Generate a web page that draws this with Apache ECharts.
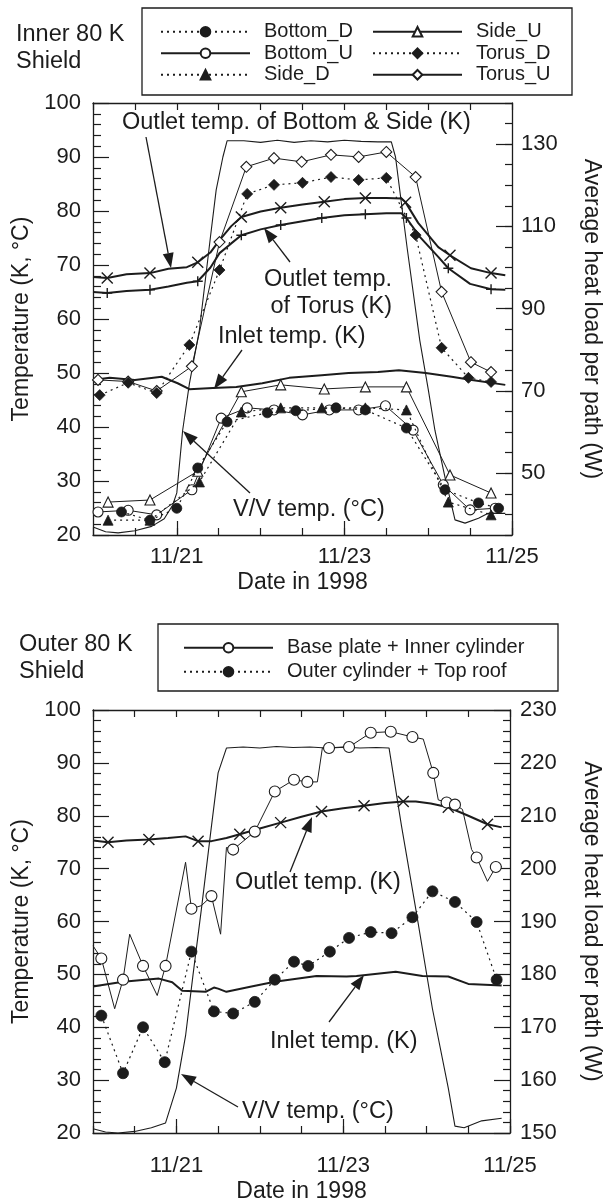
<!DOCTYPE html>
<html><head><meta charset="utf-8">
<script src="https://cdn.jsdelivr.net/npm/echarts@6/dist/echarts.min.js"></script>
<style>html,body{margin:0;padding:0;background:#fff}#c{width:611px;height:1204px}</style>
</head><body><div id="c"></div>
<script>
// ---------- DATA (x = day of November 1998) ----------
const xLabelDays = [21, 23, 25];
const rightTopLabels = [50, 70, 90, 110, 130];

// Inner 80 K shield - temperatures (left axis, K / °C)
const vvTop = [[20.0,21.5],[20.15,20.6],[20.3,20.4],[20.5,20.8],[20.7,21.6],[20.85,23.0],[20.95,25.5],[21.0,27.8],[21.07,39.4],[21.15,48],[21.27,58],[21.4,75],[21.47,83.9],[21.55,90],[21.6,93.0],[21.8,93.0],[22.0,92.7],[22.2,93.1],[22.4,92.7],[22.6,93.0],[22.8,92.8],[23.0,93.1],[23.2,92.9],[23.4,92.8],[23.56,92.8],[23.61,90],[23.75,73],[23.9,56],[24.0,47],[24.08,39.4],[24.2,30.7],[24.32,22.8],[24.44,22.2],[24.6,23.1],[24.71,24],[24.92,24]];
const outletBSLine = [[20.0,67.8],[20.4,68.3],[20.9,69.3],[21.12,69.6],[21.4,72.3],[21.51,74.6],[21.65,77.2],[22.0,79.9],[22.5,81.2],[23.0,82.2],[23.5,82.4],[23.68,82.3],[23.88,77.8],[24.12,73.3],[24.51,69.4],[24.92,68.1]];
const outletBSMarks = [[20.17,67.6],[20.68,68.5],[21.25,70.5],[21.77,78.9],[22.24,80.6],[22.76,81.7],[23.25,82.4],[23.73,81.6],[24.26,71.8],[24.75,68.5]];
const outletTorusLine = [[20.0,65.0],[20.4,65.2],[20.9,66.0],[21.12,66.7],[21.4,69.5],[21.51,72.2],[21.65,74.0],[22.0,76.6],[22.5,78.1],[23.0,79.2],[23.5,79.6],[23.68,79.6],[23.9,75.2],[24.12,71.5],[24.5,66.5],[24.92,65.4]];
const outletTorusMarks = [[20.17,64.8],[20.68,65.4],[21.25,67.0],[21.77,75.5],[22.24,77.4],[22.73,78.7],[23.25,79.4],[23.74,78.7],[24.24,69.4],[24.75,65.5]];
const inletTop = [[20.0,48.7],[20.2,49.1],[20.5,48.7],[20.82,49.3],[21.01,48.1],[21.15,47.0],[21.43,47.2],[21.71,47.4],[22.02,48.1],[22.34,49.1],[22.73,49.6],[23.05,50.0],[23.4,50.2],[23.65,50.5],[23.97,50.0],[24.28,49.3],[24.52,48.7],[24.92,47.8]];

// Inner 80 K shield - heat load per path (right axis, W)
const bottomD = [[20.34,40.6],[20.68,38.6],[21.0,41.5],[21.25,51.3],[21.6,62.5],[22.08,64.7],[22.42,65.2],[22.9,65.9],[23.25,65.4],[23.74,61.0],[24.2,46.0],[24.6,42.8],[24.84,41.5]];
const bottomU = [[20.06,40.6],[20.42,41.0],[20.76,39.9],[21.18,46.0],[21.53,63.4],[21.84,65.9],[22.16,65.4],[22.5,64.2],[22.82,65.4],[23.17,65.4],[23.49,66.4],[23.82,60.5],[24.18,47.2],[24.5,41.1],[24.8,41.5]];
const sideD = [[20.18,38.6],[20.68,38.6],[21.27,47.9],[21.77,64.9],[22.24,65.9],[22.73,65.9],[23.25,65.9],[23.74,65.4],[24.24,43.0],[24.75,39.9]];
const sideU = [[20.18,43.0],[20.68,43.5],[21.25,50.5],[21.77,69.8],[22.24,71.5],[22.76,70.5],[23.25,71.0],[23.74,71.0],[24.26,49.6],[24.75,45.2]];
const torusD = [[20.08,69.0],[20.42,72.0],[20.76,69.5],[21.15,81.2],[21.51,99.4],[21.84,117.9],[22.16,120.1],[22.5,120.6],[22.84,122.0],[23.17,121.3],[23.5,121.8],[23.85,107.9],[24.16,80.5],[24.48,73.2],[24.75,72.2]];
const torusU = [[20.06,72.7],[20.42,72.3],[20.76,70.0],[21.18,76.0],[21.51,106.2],[21.83,124.5],[22.16,126.6],[22.49,125.7],[22.84,127.4],[23.17,126.9],[23.5,128.1],[23.85,122.0],[24.16,94.1],[24.51,77.0],[24.75,74.6]];

// Outer 80 K shield - temperatures (left axis)
const vvBot = [[20.0,20.8],[20.15,20.2],[20.3,20.0],[20.5,20.3],[20.7,21.0],[20.87,21.9],[21.0,28.5],[21.11,38.4],[21.2,50],[21.3,62.4],[21.42,78],[21.5,88.1],[21.6,92.8],[21.8,93.0],[22.0,92.8],[22.2,93.1],[22.4,92.9],[22.6,93.0],[22.8,92.8],[23.0,93.0],[23.2,92.8],[23.4,92.9],[23.55,92.8],[23.7,78],[23.87,62.4],[24.07,43.5],[24.26,28.5],[24.34,21.3],[24.45,21.0],[24.66,22.3],[24.9,22.8]];
const outletBotLine = [[20.0,75.3],[20.4,75.3],[20.9,75.8],[21.11,76.1],[21.42,75.2],[21.6,75.8],[22.0,77.6],[22.5,79.8],[23.0,81.4],[23.5,82.4],[23.87,82.7],[24.05,82.3],[24.5,80.0],[24.9,77.8]];
const outletBotMarks = [[20.18,75.0],[20.67,75.5],[21.26,75.2],[21.76,76.5],[22.25,78.7],[22.74,80.8],[23.25,81.9],[23.72,82.7],[24.26,81.6],[24.73,78.4]];
const inletBot = [[20.0,47.7],[20.36,48.6],[20.79,49.2],[20.95,48.5],[21.07,46.9],[21.35,46.7],[21.45,47.5],[21.5,47.3],[21.6,46.7],[21.9,47.7],[22.18,48.6],[22.68,49.7],[23.04,49.6],[23.16,49.7],[23.63,50.5],[23.95,49.7],[24.26,49.6],[24.5,48.2],[24.9,47.9]];

// Outer 80 K shield - heat load per path (right axis, W)
const baseLine = [[20.0,185.4],[20.26,173.5],[20.44,187.6],[20.77,176.0],[21.11,201.2],[21.3,193.0],[21.53,187.6],[21.6,204.0],[22.69,216.4],[22.75,222.8],[23.96,224.5],[24.14,213.0],[24.43,211.2],[24.54,203.6],[24.73,197.6],[24.9,200.4]];
const baseMarks = [[20.1,183.0],[20.36,179.0],[20.6,181.6],[20.87,181.6],[21.18,192.4],[21.42,194.8],[21.68,203.6],[21.94,207.0],[22.18,214.6],[22.41,216.8],[22.57,216.4],[22.83,222.8],[23.07,223.0],[23.33,225.7],[23.57,225.9],[23.83,224.9],[24.08,218.1],[24.24,212.5],[24.34,212.1],[24.6,202.1],[24.83,200.3]];
const outerCyl = [[20.1,172.2],[20.36,161.3],[20.6,170.0],[20.86,163.4],[21.18,184.3],[21.45,173.0],[21.68,172.6],[21.94,174.8],[22.18,179.0],[22.41,182.4],[22.58,181.6],[22.84,184.3],[23.07,186.9],[23.33,188.0],[23.58,187.8],[23.83,190.8],[24.07,195.7],[24.34,193.7],[24.6,189.9],[24.84,179.0]];

// ---------- STYLE ----------
const FONT = "'Liberation Sans', Arial, Helvetica, sans-serif";
const INK = '#1c1c1c';
const SYM_X = 'path://M0,0L10,10M10,0L0,10';
const SYM_PLUS = 'path://M5,0L5,10M0,5L10,5';
const DOT = [2, 4];

function merged(line, marks) {
  const pts = line.map(p => ({ value: p, symbol: 'none' })).concat(marks.map(p => ({ value: p })));
  pts.sort((a, b) => a.value[0] - b.value[0]);
  return pts;
}

const chart = echarts.init(document.getElementById('c'), null, { renderer: 'canvas' });

const axisLineS = { show: true, lineStyle: { color: INK, width: 1.3 } };
const tickStyle = { color: INK, width: 1.2 };
const lab = { fontFamily: FONT, fontSize: 22, color: INK };
const nameStyle = { fontFamily: FONT, fontSize: 23, color: INK };

function xAxes(gi, labelMargin, nameGap) {
  return [
    { gridIndex: gi, type: 'value', min: 20, max: 25, interval: 0.5, position: 'bottom',
      axisLine: axisLineS, axisTick: { inside: true, length: 7, lineStyle: tickStyle },
      axisLabel: { show: false }, splitLine: { show: false } },
    { gridIndex: gi, type: 'value', min: 20, max: 25, position: 'bottom',
      axisLine: { show: false },
      axisTick: { inside: true, length: 14, customValues: xLabelDays, lineStyle: tickStyle },
      axisLabel: Object.assign({}, lab, { margin: labelMargin, customValues: xLabelDays, formatter: v => '11/' + v }),
      splitLine: { show: false },
      name: 'Date in 1998', nameLocation: 'middle', nameGap: nameGap, nameTextStyle: nameStyle },
    { gridIndex: gi, type: 'value', min: 20, max: 25, interval: 0.5, position: 'top',
      axisLine: axisLineS, axisTick: { inside: true, length: 7, lineStyle: tickStyle },
      axisLabel: { show: false }, splitLine: { show: false } }
  ];
}
function leftAxis(gi) {
  return { gridIndex: gi, type: 'value', min: 20, max: 100, interval: 10, position: 'left',
    axisLine: axisLineS, axisTick: { inside: true, length: 16, lineStyle: tickStyle },
    minorTick: { show: true, splitNumber: 5, length: 8, lineStyle: tickStyle },
    axisLabel: Object.assign({}, lab, { margin: 12 }), splitLine: { show: false },
    name: 'Temperature (K, °C)', nameLocation: 'middle', nameRotate: 90, nameGap: 55, nameTextStyle: nameStyle };
}

const yAxis = [
  leftAxis(0),
  { gridIndex: 0, type: 'value', min: 35, max: 140, interval: 5, position: 'right',
    axisLine: axisLineS, axisTick: { inside: true, length: 7, lineStyle: tickStyle },
    axisLabel: { show: false }, splitLine: { show: false } },
  { gridIndex: 0, type: 'value', min: 35, max: 140, position: 'right',
    axisLine: { show: false },
    axisTick: { inside: true, length: 16, customValues: rightTopLabels, lineStyle: tickStyle },
    axisLabel: Object.assign({}, lab, { margin: 9, customValues: rightTopLabels }),
    splitLine: { show: false },
    name: 'Average heat load per path (W)', nameLocation: 'middle', nameRotate: -90, nameGap: 68, nameTextStyle: nameStyle },
  leftAxis(1),
  { gridIndex: 1, type: 'value', min: 150, max: 230, interval: 10, position: 'right',
    axisLine: axisLineS, axisTick: { inside: true, length: 16, lineStyle: tickStyle },
    minorTick: { show: true, splitNumber: 5, length: 7, lineStyle: tickStyle },
    axisLabel: Object.assign({}, lab, { margin: 10 }), splitLine: { show: false },
    name: 'Average heat load per path (W)', nameLocation: 'middle', nameRotate: -90, nameGap: 70, nameTextStyle: nameStyle }
];
const xAxis = xAxes(0, 11, 36).concat(xAxes(1, 22, 47));

function plain(data, xi, yi, width, z) {
  return { type: 'line', xAxisIndex: xi, yAxisIndex: yi, data: data, symbol: 'none', silent: true,
    lineStyle: { color: INK, width: width }, z: z || 2, animation: false };
}
function crossLine(line, marks, sym, size, xi, yi) {
  return { type: 'line', xAxisIndex: xi, yAxisIndex: yi, data: merged(line, marks), symbol: sym, symbolSize: size,
    showSymbol: true, showAllSymbol: true, silent: true,
    itemStyle: { color: 'rgba(0,0,0,0)', borderColor: INK, borderWidth: 1.4 },
    lineStyle: { color: INK, width: 2 }, z: 3, animation: false };
}
function loadSeries(name, data, sym, filled, dotted, xi, yi, size) {
  return { name: name, type: 'line', xAxisIndex: xi, yAxisIndex: yi, data: data, symbol: sym, symbolSize: size,
    showSymbol: true, showAllSymbol: true, silent: true,
    itemStyle: filled ? { color: INK, borderColor: INK, borderWidth: 0.8 } : { color: '#fff', borderColor: INK, borderWidth: 1.1 },
    lineStyle: { color: INK, width: dotted ? 1.2 : 1, type: dotted ? DOT : 'solid' },
    z: filled ? 5 : 4, animation: false };
}

const series = [
  plain(vvTop, 0, 0, 1.1),
  crossLine(outletBSLine, outletBSMarks, SYM_X, 11, 0, 0),
  crossLine(outletTorusLine, outletTorusMarks, SYM_PLUS, 10, 0, 0),
  plain(inletTop, 0, 0, 2),
  loadSeries('Bottom_D', bottomD, 'circle', true, true, 0, 1, 10),
  loadSeries('Bottom_U', bottomU, 'circle', false, false, 0, 1, 10),
  loadSeries('Side_D', sideD, 'triangle', true, true, 0, 1, 10),
  loadSeries('Side_U', sideU, 'triangle', false, false, 0, 1, 10),
  loadSeries('Torus_D', torusD, 'diamond', true, true, 0, 1, 11),
  loadSeries('Torus_U', torusU, 'diamond', false, false, 0, 1, 11),

  plain(vvBot, 3, 3, 1.1),
  crossLine(outletBotLine, outletBotMarks, SYM_X, 11, 3, 3),
  plain(inletBot, 3, 3, 2),
  loadSeries('Base plate + Inner cylinder', merged(baseLine, baseMarks), 'circle', false, false, 3, 4, 11),
  loadSeries('Outer cylinder + Top roof', outerCyl, 'circle', true, true, 3, 4, 11)
];

// ---------- annotation layout (pixels) ----------
function arrow(x1, y1, x2, y2) {
  const L = 15, W = 5.5;
  const dx = x2 - x1, dy = y2 - y1, d = Math.sqrt(dx * dx + dy * dy);
  const ux = dx / d, uy = dy / d;
  const bx = x2 - ux * L, by = y2 - uy * L;
  return [
    { type: 'line', shape: { x1: x1, y1: y1, x2: bx, y2: by }, style: { stroke: INK, lineWidth: 1.3 }, z: 10 },
    { type: 'polygon', shape: { points: [[x2, y2], [bx - uy * W, by + ux * W], [bx + uy * W, by - ux * W]] }, style: { fill: INK }, z: 10 }
  ];
}
function txt(s, x, y, align, size) {
  return { type: 'text', x: x, y: y, z: 10,
    style: { text: s, fontFamily: FONT, fontSize: size || 23.5, fill: INK, textAlign: align || 'left', textVerticalAlign: 'middle' } };
}

const TOPBOX = { x: 142, y: 8, w: 430, h: 87 };
const BOTBOX = { x: 158, y: 624, w: 400, h: 67 };

const graphic = [
  txt('Inner 80 K', 16, 35, 'left', 23.5), txt('Shield', 16, 62, 'left', 23.5),
  txt('Outer 80 K', 19, 645, 'left', 23.5), txt('Shield', 19, 672, 'left', 23.5),
  { type: 'rect', shape: { x: TOPBOX.x, y: TOPBOX.y, width: TOPBOX.w, height: TOPBOX.h }, style: { fill: 'none', stroke: INK, lineWidth: 1.3 } },
  { type: 'rect', shape: { x: BOTBOX.x, y: BOTBOX.y, width: BOTBOX.w, height: BOTBOX.h }, style: { fill: 'none', stroke: INK, lineWidth: 1.3 } },
  txt('Outlet temp. of Bottom & Side (K)', 122, 123),
  txt('Outlet temp.', 392, 280, 'right'), txt('of Torus (K)', 392, 307, 'right'),
  txt('Inlet temp. (K)', 218, 337),
  txt('V/V temp. (°C)', 233, 510),
  txt('Outlet temp. (K)', 235, 883),
  txt('Inlet temp. (K)', 270, 1042),
  txt('V/V temp. (°C)', 242, 1112)
].concat(
  arrow(146, 137, 171, 268),
  arrow(290, 262, 264, 228),
  arrow(242, 350, 214, 389),
  arrow(250, 493, 183, 431),
  arrow(290, 872, 312, 817),
  arrow(329, 1022, 364, 975),
  arrow(238, 1107, 181, 1074)
);

const legendBase = {
  orient: 'vertical', itemWidth: 89, itemHeight: 12, itemGap: 0, selectedMode: false, padding: 0,
  textStyle: { fontFamily: FONT, fontSize: 20, color: INK, lineHeight: 21.5, padding: [0, 0, 0, 9] }
};

chart.setOption({
  backgroundColor: '#fff',
  animation: false,
  grid: [
    { left: 93, top: 103, width: 421, height: 432 },
    { left: 93, top: 710, width: 423, height: 425 }
  ],
  xAxis: xAxis,
  yAxis: yAxis,
  legend: [
    Object.assign({}, legendBase, { data: ['Bottom_D', 'Bottom_U', 'Side_D'], left: 160, top: 21 }),
    Object.assign({}, legendBase, { data: ['Side_U', 'Torus_D', 'Torus_U'], left: 372, top: 21 }),
    Object.assign({}, legendBase, { data: ['Base plate + Inner cylinder', 'Outer cylinder + Top roof'], left: 183, top: 637, itemGap: 2.5 })
  ],
  series: series,
  graphic: graphic
});
</script></body></html>
